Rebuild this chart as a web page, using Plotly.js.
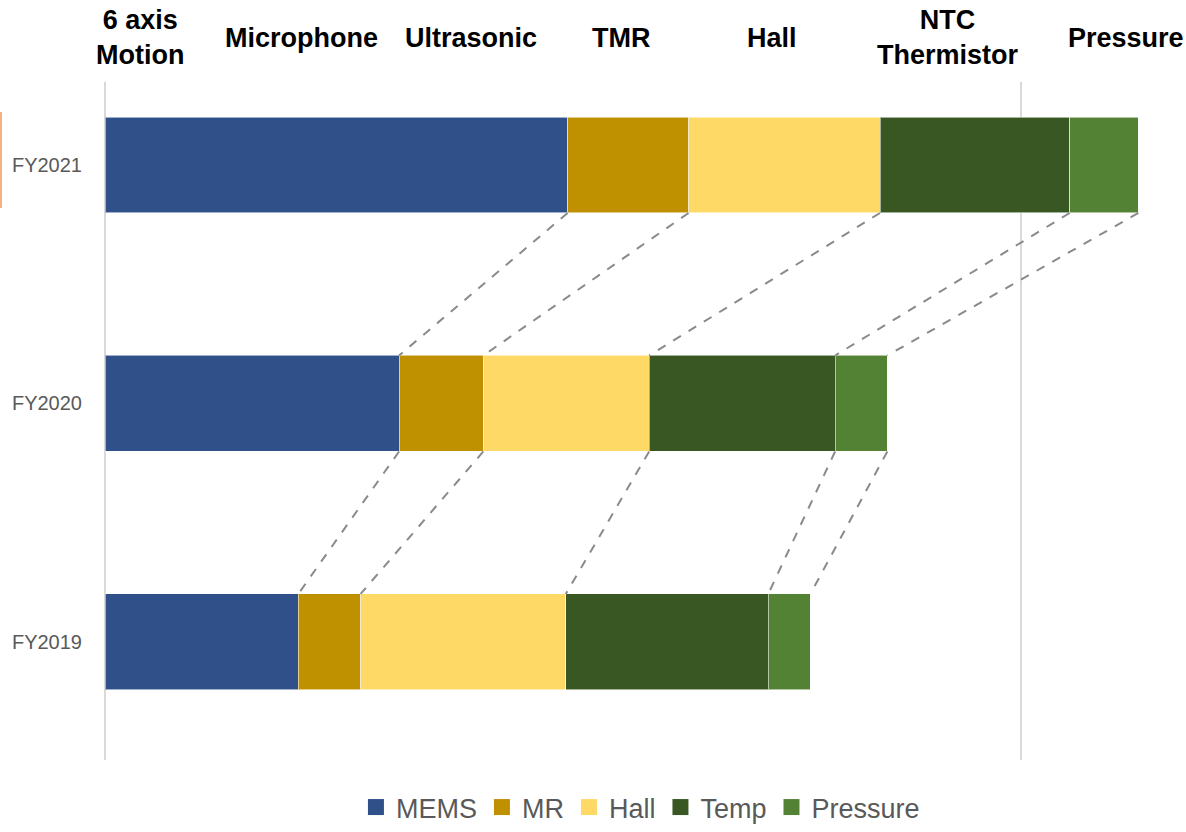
<!DOCTYPE html>
<html>
<head>
<meta charset="utf-8">
<script src="https://cdn.plot.ly/plotly-3.0.1.min.js"></script>
<style>html,body{margin:0;padding:0;background:#fff;}#chart{width:1186px;height:832px;}</style>
</head>
<body>
<div id="chart"></div>
<script>
// ---- data ----
var years = ['FY2019', 'FY2020', 'FY2021'];
var seriesNames = ['MEMS', 'MR', 'Hall', 'Temp', 'Pressure'];
var MEMS     = [21.1, 32.1, 50.5];
var MR       = [6.8, 9.2, 13.2];
var Hall     = [22.4, 18.1, 20.9];
var Temp     = [22.1, 20.3, 20.7];
var Pressure = [4.6, 5.7, 7.5];
var topLabels = ['6 axis<br>Motion', 'Microphone', 'Ultrasonic', 'TMR', 'Hall', 'NTC<br>Thermistor', 'Pressure'];

// ---- style ----
var colors = ['#2F5089', '#BF9000', '#FFD966', '#385723', '#548235'];
var values = [MEMS, MR, Hall, Temp, Pressure];
var barWidth = 0.4025;
var yPos = years.map(function (_, i) { return i; });

var traces = [];
values.forEach(function (vals, s) {
  traces.push({
    type: 'bar', orientation: 'h', name: seriesNames[s],
    x: vals, y: yPos, width: barWidth,
    marker: { color: colors[s], line: { color: 'rgba(255,255,255,0.55)', width: 1 } },
    showlegend: false, hoverinfo: 'x'
  });
});

// connectors between cumulative boundaries of adjacent years
var cum = years.map(function (_, yi) {
  var c = [], t = 0;
  values.forEach(function (vals) { t += vals[yi]; c.push(t); });
  return c;
});
for (var yi = years.length - 1; yi > 0; yi--) {
  for (var s = 0; s < seriesNames.length; s++) {
    traces.push({
      type: 'scatter', mode: 'lines',
      x: [cum[yi][s], cum[yi - 1][s]],
      y: [yi - barWidth / 2, yi - 1 + barWidth / 2],
      line: { color: '#8a8a8a', width: 2, dash: 'dash' },
      showlegend: false, hoverinfo: 'skip'
    });
  }
}

// legend entries
seriesNames.forEach(function (n, s) {
  traces.push({
    type: 'scatter', mode: 'markers', name: n, x: [null], y: [null],
    marker: { symbol: 'square', size: 18, color: colors[s] },
    showlegend: true
  });
});

var labelX = [140, 301, 471, 621, 772, 948, 1126];
var labelY = [38, 38, 38, 38, 38, 37, 38];
var plotL = 105, plotW = 1081, plotT = 82, plotH = 678;
var annotations = topLabels.map(function (t, i) {
  return {
    text: '<b>' + t + '</b>', xref: 'paper', yref: 'paper',
    x: (labelX[i] - plotL) / plotW, y: (plotT + plotH - labelY[i]) / plotH,
    xanchor: 'center', yanchor: 'middle', showarrow: false,
    font: { family: 'Liberation Sans, Arial, sans-serif', size: 27, color: '#000' }
  };
});

var layout = {
  width: 1186, height: 832,
  margin: { l: plotL, r: 0, t: plotT, b: 72 },
  paper_bgcolor: '#fff', plot_bgcolor: '#fff',
  barmode: 'stack',
  showlegend: true,
  legend: {
    orientation: 'h', xref: 'container', yref: 'container', traceorder: 'normal',
    x: 0.54, xanchor: 'center', y: 0, yanchor: 'bottom',
    font: { family: 'Liberation Sans, Arial, sans-serif', size: 27, color: '#595959' },
    itemclick: false
  },
  xaxis: {
    range: [0, 118], tickvals: [0, 100], showticklabels: false,
    showgrid: true, gridcolor: '#d9d9d9', gridwidth: 2,
    zeroline: true, zerolinecolor: '#d9d9d9', zerolinewidth: 2,
    showline: false, fixedrange: true
  },
  yaxis: {
    range: [-0.495, 2.348], tickvals: yPos, ticktext: years,
    showgrid: false, zeroline: false, showline: false,
    ticks: '', ticklabelstandoff: 22,
    tickfont: { family: 'Liberation Sans, Arial, sans-serif', size: 20, color: '#595959' },
    fixedrange: true
  },
  annotations: annotations,
  shapes: [{
    type: 'line', xref: 'paper', yref: 'paper',
    x0: (1 - plotL) / plotW, x1: (1 - plotL) / plotW,
    y0: (plotT + plotH - 112) / plotH, y1: (plotT + plotH - 208) / plotH,
    line: { color: '#F4B183', width: 2 }
  }]
};

Plotly.newPlot('chart', traces, layout, { displayModeBar: false, staticPlot: true });
</script>
</body>
</html>
